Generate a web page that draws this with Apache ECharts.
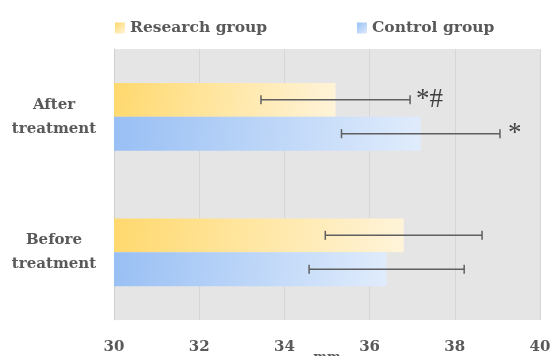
<!DOCTYPE html>
<html>
<head>
<meta charset="utf-8">
<style>
  html, body { margin: 0; padding: 0; background: #ffffff; }
  #chart { width: 553px; height: 356px; }
</style>
<script src="https://cdn.jsdelivr.net/npm/echarts@6/dist/echarts.min.js"></script>
</head>
<body>
<div id="chart"></div>
<script>
// Categories, bottom to top on the category axis
var categories = ['Before\ntreatment', 'After\ntreatment'];

// Mean thickness (mm) and standard deviation per group
var researchMean = [36.8, 35.2];
var researchSd = [1.84, 1.75];
var controlMean = [36.4, 37.2];
var controlSd = [1.82, 1.86];

// Significance marks written after each error bar
var researchMarks = ['', '*#'];
var controlMarks = ['', '*'];

var xTicks = { min: 30, max: 40, interval: 2 };

var labelFont = '"DejaVu Serif", "Liberation Serif", serif';
var markFont = '"Liberation Serif", "Times New Roman", serif';
var textGrey = '#595959';

function gradient(c0, c1) {
  return new echarts.graphic.LinearGradient(0, 0, 1, 1, [
    { offset: 0, color: c0 },
    { offset: 1, color: c1 }
  ]);
}

var researchColor = gradient('#ffd96e', '#fff4da');
var controlColor = gradient('#98bff4', '#e0ecfc');

// Error bar rows: [mean, categoryIndex, low, high, seriesSlot, mark]
function errorRows(means, sds, slot, marks) {
  return means.map(function (m, i) {
    return [m, i, m - sds[i], m + sds[i], slot, marks[i]];
  });
}

function renderErrorBar(params, api) {
  var cat = api.value(1);
  var lo = api.coord([api.value(2), cat]);
  var hi = api.coord([api.value(3), cat]);
  var band = api.size([0, 1])[1];
  // two bars fill half of the band; slot 0 sits above slot 1
  var off = (api.value(4) === 0 ? -1 : 1) * band / 8;
  var y = lo[1] + off;
  var cap = 4.5;
  var style = { stroke: '#5f5f5f', lineWidth: 1.5 };
  var children = [
    { type: 'line', shape: { x1: lo[0], y1: y, x2: hi[0], y2: y }, style: style },
    { type: 'line', shape: { x1: lo[0], y1: y - cap, x2: lo[0], y2: y + cap }, style: style },
    { type: 'line', shape: { x1: hi[0], y1: y - cap, x2: hi[0], y2: y + cap }, style: style }
  ];
  var mark = api.value(5);
  if (mark) {
    children.push({
      type: 'text',
      style: {
        text: mark,
        x: hi[0] + (mark.length === 1 ? 8 : 6),
        y: y,
        fill: '#404040',
        font: '27px ' + markFont,
        verticalAlign: 'middle',
        align: 'left'
      }
    });
  }
  return { type: 'group', children: children };
}

var chart = echarts.init(document.getElementById('chart'), null, { renderer: 'canvas' });

var legendText = { fontFamily: labelFont, fontWeight: 'bold', fontSize: 15.5, color: textGrey };

chart.setOption({
  animation: false,
  backgroundColor: '#ffffff',
  grid: {
    left: 114, right: 13, top: 49, bottom: 36,
    outerBoundsMode: 'none',
    containLabel: false,
    show: true, backgroundColor: '#e5e5e5', borderWidth: 0
  },
  legend: [
    {
      data: ['Research group'], left: 115, top: 20, padding: 0,
      icon: 'rect', itemWidth: 10, itemHeight: 11,
      textStyle: legendText
    },
    {
      data: ['Control group'], left: 357, top: 20, padding: 0,
      icon: 'rect', itemWidth: 10, itemHeight: 11,
      textStyle: legendText
    }
  ],
  xAxis: {
    type: 'value',
    min: xTicks.min, max: xTicks.max, interval: xTicks.interval,
    name: 'mm', nameLocation: 'middle', nameGap: 31,
    nameMoveOverlap: false,
    nameTextStyle: { fontFamily: labelFont, fontWeight: 'bold', fontSize: 13, color: textGrey },
    axisLine: { show: false },
    axisTick: { show: false },
    axisLabel: { margin: 20, fontFamily: labelFont, fontWeight: 'bold', fontSize: 15, color: textGrey },
    splitLine: { show: true, lineStyle: { color: '#d6d6d6', width: 1 } }
  },
  yAxis: {
    type: 'category',
    data: categories,
    axisLine: { show: true, lineStyle: { color: '#d0d0d0', width: 1 } },
    axisTick: { show: false },
    axisLabel: {
      align: 'center', margin: 60, lineHeight: 24, padding: [4, 0, 0, 0],
      fontFamily: labelFont, fontWeight: 'bold', fontSize: 15, color: textGrey
    }
  },
  series: [
    {
      name: 'Research group', type: 'bar', data: researchMean,
      barCategoryGap: '50%', barGap: '0%',
      itemStyle: { color: researchColor }
    },
    {
      name: 'Control group', type: 'bar', data: controlMean,
      barCategoryGap: '50%', barGap: '0%',
      itemStyle: { color: controlColor }
    },
    {
      type: 'custom', renderItem: renderErrorBar, z: 5, clip: false,
      encode: { x: [0, 2, 3], y: 1 },
      data: errorRows(researchMean, researchSd, 0, researchMarks)
    },
    {
      type: 'custom', renderItem: renderErrorBar, z: 5, clip: false,
      encode: { x: [0, 2, 3], y: 1 },
      data: errorRows(controlMean, controlSd, 1, controlMarks)
    }
  ]
});
</script>
</body>
</html>
